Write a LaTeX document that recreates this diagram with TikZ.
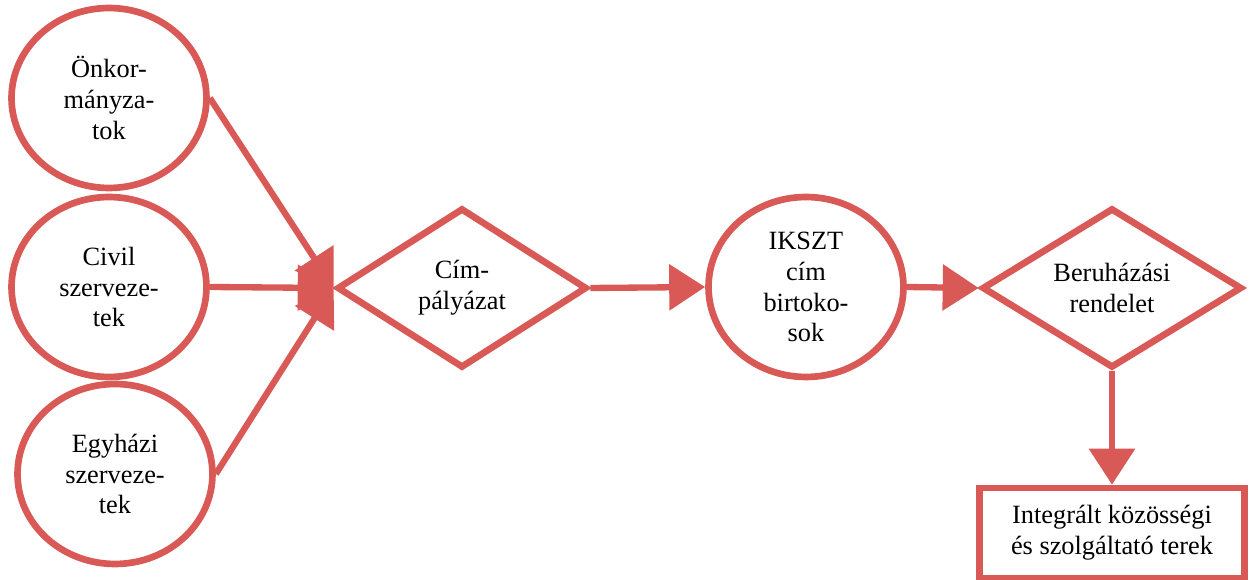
\documentclass[tikz,border=0pt]{standalone}
\usepackage{fontspec}
\setmainfont{Liberation Serif}
\usepackage{tikz}
\usetikzlibrary{shapes.geometric,arrows.meta}
\definecolor{piros}{RGB}{217,89,86}
\tikzstyle{szereplo} = [draw=piros, line width=3.8pt, ellipse, inner sep=0pt, minimum width=3.9cm, minimum height=3.6cm, align=center, font=\fontsize{15}{17.6}\selectfont]
\tikzstyle{dontes} = [draw=piros, line width=3.8pt, diamond, aspect=1.6, inner sep=0pt, minimum width=5.2cm, minimum height=3.2cm, align=center, font=\fontsize{15}{17.6}\selectfont]
\tikzstyle{eredmeny} = [draw=piros, line width=3.8pt, rectangle, inner sep=0pt, minimum width=5.3cm, minimum height=1.8cm, align=center, font=\fontsize{15}{17.6}\selectfont]
\tikzstyle{nyil} = [draw=piros, line width=3.6pt, -{Triangle[length=0.72cm, width=0.9cm]}]

\begin{document}
\begin{tikzpicture}[x=0.02cm, y=-0.02cm]
	\useasboundingbox (0,0) rectangle (1249,580);
	% szereplok
	\node[szereplo] (onk) at (109,98) {Önkor-\\mányza-\\tok};
	\node[szereplo] (civ) at (109,287) {Civil\\szerveze-\\tek};
	\node[szereplo] (egy) at (115,474) {Egyházi\\szerveze-\\tek};
	\node[szereplo] (ikszt) at (806,287) {IKSZT\\cím\\birtoko-\\sok};
	% dontesek
	\node[dontes, minimum width=5cm] (cim) at (462,288) {Cím-\\pályázat};
	\node[dontes] (ber) at (1112,288) {Beruházási\\rendelet};
	% eredmeny
	\node[eredmeny] (ter) at (1112,533) {Integrált közösségi\\és szolgáltató terek};
	% nyilak
	\draw[nyil] (onk.east) -- (cim.west);
	\draw[nyil] (civ.east) -- (cim.west);
	\draw[nyil] (egy.east) -- (cim.west);
	\draw[nyil] (cim.east) -- (ikszt.west);
	\draw[nyil] (ikszt.east) -- (ber.west);
	\draw[nyil] (ber.south) -- (ter.north);
\end{tikzpicture}
\end{document}
